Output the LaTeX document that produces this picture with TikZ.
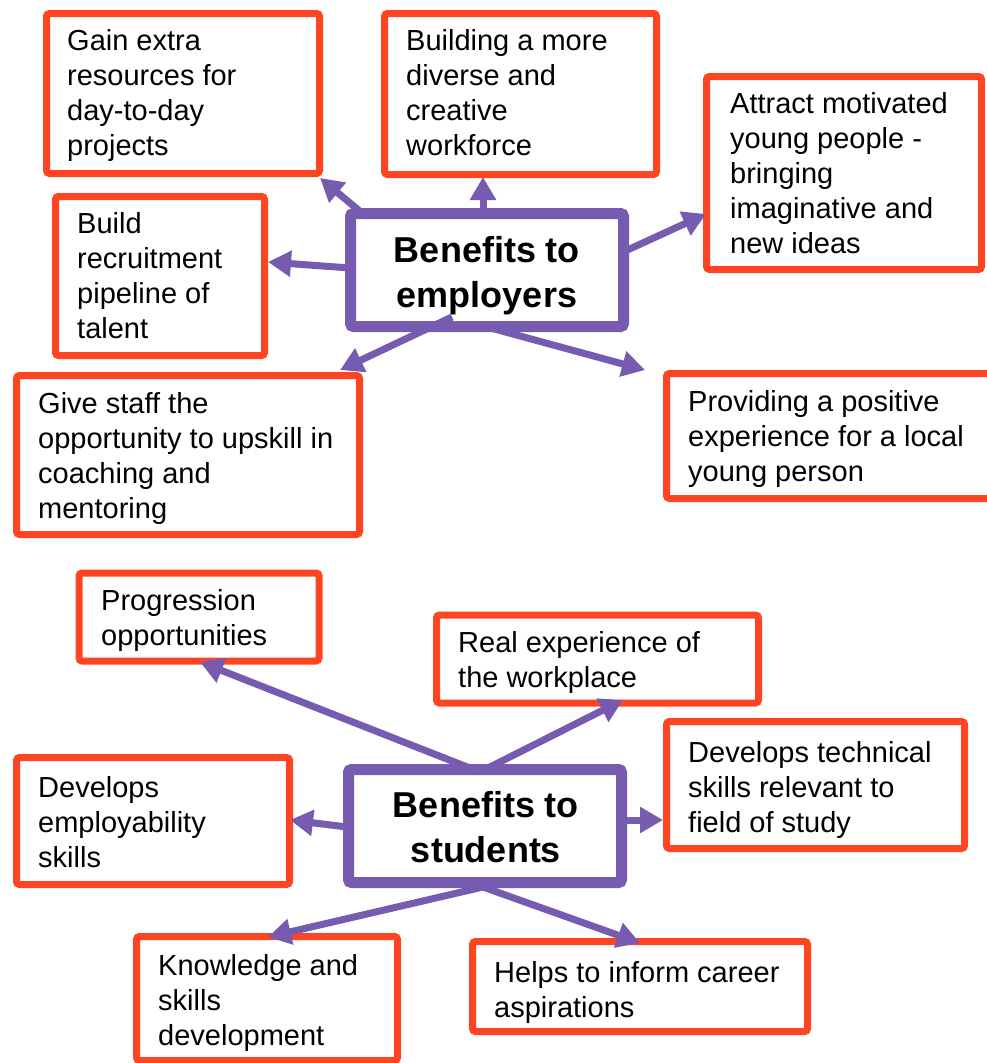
\documentclass[tikz,border=0pt]{standalone}
\usepackage{fontspec}
\setmainfont{Liberation Sans}
\usetikzlibrary{arrows.meta}
\definecolor{orng}{HTML}{FF4422}
\definecolor{purp}{HTML}{775BB0}
\newcommand{\tstrut}{\rule{0pt}{22pt}}
\newcommand{\hstrut}{\rule{0pt}{28pt}}
\tikzset{
  obox/.style={draw=orng, fill=white, line width=7pt, rounded corners=3pt, inner sep=0pt},
  pbox/.style={draw=purp, fill=white, line width=11pt, rounded corners=3pt, inner sep=0pt},
  btext/.style={anchor=north west, inner sep=0pt, align=left, font=\fontsize{29}{35}\selectfont},
  htext/.style={anchor=north, inner sep=0pt, align=center, font=\fontsize{36}{45}\selectfont\bfseries},
  arr/.style={draw=purp, line width=7pt, -{Triangle[length=23pt,width=25pt]}}
}
\begin{document}
\begin{tikzpicture}[x=1pt,y=-1pt]
\useasboundingbox (0,0) rectangle (987,1063);
\clip (0,0) rectangle (987,1063);
\fill[white] (0,0) rectangle (987,1063);

% orange boxes (employers)
\node[obox, minimum width=273pt, minimum height=160pt] (b1) at (183,93.5) {};
\node[obox, minimum width=272pt, minimum height=161pt] (b2) at (520.5,94) {};
\node[obox, minimum width=275pt, minimum height=193pt] (b3) at (844,173) {};
\node[obox, minimum width=209pt, minimum height=159pt] (b4) at (160,276) {};
\node[obox, minimum width=343pt, minimum height=159pt] (b6) at (188,455) {};
\node[obox, minimum width=330pt, minimum height=125pt] (b7) at (831.5,436) {};
% orange boxes (students)
\node[obox, minimum width=240pt, minimum height=88pt] (b8) at (199,617) {};
\node[obox, minimum width=322pt, minimum height=88pt] (b9) at (597.5,659) {};
\node[obox, minimum width=298pt, minimum height=127pt] (b10) at (815.5,785) {};
\node[obox, minimum width=273pt, minimum height=127pt] (b11) at (153,821) {};
\node[obox, minimum width=261pt, minimum height=124pt] (b13) at (267,998.5) {};
\node[obox, minimum width=335pt, minimum height=90pt] (b14) at (640,986.5) {};

% purple boxes
\node[pbox, minimum width=273pt, minimum height=113pt] (pe) at (487,270) {};
\node[pbox, minimum width=273pt, minimum height=113pt] (ps) at (485,826) {};

% texts
\node[btext] (t1) at (67,28) {\tstrut Gain extra\\resources for\\day-to-day\\projects};
\node[btext] (t2) at (406,28) {\tstrut Building a more\\diverse and\\creative\\workforce};
\node[btext] (t3) at (730,91) {\tstrut Attract motivated\\young people -\\bringing\\imaginative and\\new ideas};
\node[btext] (t4) at (77,211) {\tstrut Build\\recruitment\\pipeline of\\talent};
\node[btext] (t6) at (38,391) {\tstrut Give staff the\\opportunity to upskill in\\coaching and\\mentoring};
\node[btext] (t7) at (688,389) {\tstrut Providing a positive\\experience for a local\\young person};
\node[btext] (t8) at (101,588) {\tstrut Progression\\opportunities};
\node[btext] (t9) at (458,630) {\tstrut Real experience of\\the workplace};
\node[btext] (t10) at (688,740) {\tstrut Develops technical\\skills relevant to\\field of study};
\node[btext] (t11) at (38,775) {\tstrut Develops\\employability\\skills};
\node[btext] (t13) at (158,953) {\tstrut Knowledge and\\skills\\development};
\node[btext] (t14) at (494,960) {\tstrut Helps to inform career\\aspirations};

\node[htext] (he) at (487,234) {\hstrut Benefits to\\employers};
\node[htext] (hs) at (486,789) {\hstrut Benefits to\\students};

% arrow end points
\coordinate (e1s) at (362,213); \coordinate (e1e) at (320,178);
\coordinate (e2s) at (483,212); \coordinate (e2e) at (483,177);
\coordinate (e3s) at (623,252); \coordinate (e3e) at (706,214);
\coordinate (e4s) at (350,268); \coordinate (e4e) at (268,262);
\coordinate (e6s) at (452,317); \coordinate (e6e) at (340,370);
\coordinate (e7s) at (487,327); \coordinate (e7e) at (645,370);
\coordinate (s8s) at (480,772); \coordinate (s8e) at (200,662);
\coordinate (s9s) at (480,772); \coordinate (s9e) at (623,700);
\coordinate (s11s) at (347,827); \coordinate (s11e) at (290,820);
\coordinate (s10s) at (627,820); \coordinate (s10e) at (663,820);
\coordinate (s13s) at (483,887); \coordinate (s13e) at (268,937);
\coordinate (s14s) at (483,887); \coordinate (s14e) at (640,943);

\draw[arr] (e1s) -- (e1e);
\draw[arr] (e2s) -- (e2e);
\draw[arr] (e3s) -- (e3e);
\draw[arr] (e4s) -- (e4e);
\draw[arr] (e6s) -- (e6e);
\draw[arr] (e7s) -- (e7e);
\draw[arr] (s8s) -- (s8e);
\draw[arr] (s9s) -- (s9e);
\draw[arr] (s11s) -- (s11e);
\draw[arr] (s10s) -- (s10e);
\draw[arr] (s13s) -- (s13e);
\draw[arr] (s14s) -- (s14e);
\end{tikzpicture}
\end{document}
